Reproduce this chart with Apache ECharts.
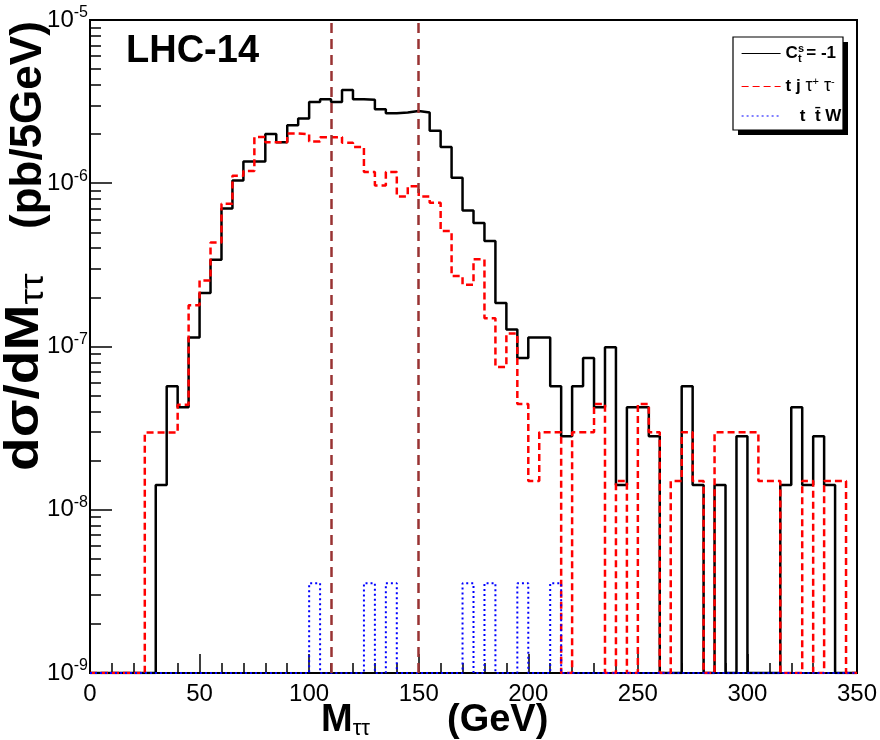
<!DOCTYPE html>
<html>
<head>
<meta charset="utf-8">
<script src="https://cdn.jsdelivr.net/npm/echarts@6/dist/echarts.min.js"></script>
<style>html,body{margin:0;padding:0;background:#fff}#chart{width:880px;height:740px}</style>
</head>
<body>
<div id="chart"></div>
<script>
// ---- data (5 GeV bins, lower edges) ----
const binLow = [0,5,10,15,20,25,30,35,40,45,50,55,60,65,70,75,80,85,90,95,
  100,105,110,115,120,125,130,135,140,145,150,155,160,165,170,175,180,185,190,195,
  200,205,210,215,220,225,230,235,240,245,250,255,260,265,270,275,280,285,290,295,
  300,305,310,315,320,325,330,335,340,345];
const xMax = 350;

// C_t^s = -1 (black, solid)
const signalCt = [0,0,0,0,0,0,1.42e-8,5.7e-8,4.24e-8,1.135e-7,
  2.13e-7,3.4e-7,7.0e-7,1.04e-6,1.36e-6,1.36e-6,2.0e-6,1.78e-6,2.27e-6,2.49e-6,
  3.15e-6,3.27e-6,3.15e-6,3.72e-6,3.27e-6,3.25e-6,2.84e-6,2.68e-6,2.71e-6,2.77e-6,
  2.71e-6,2.10e-6,1.67e-6,1.08e-6,6.8e-7,5.7e-7,4.43e-7,1.85e-7,1.27e-7,8.5e-8,
  1.135e-7,1.135e-7,5.7e-8,2.82e-8,5.7e-8,8.5e-8,4.24e-8,9.9e-8,1.42e-8,4.24e-8,
  4.24e-8,2.82e-8,0,0,5.7e-8,1.42e-8,0,1.42e-8,0,2.82e-8,
  0,0,0,1.42e-8,4.24e-8,1.42e-8,2.82e-8,1.42e-8,0,0];

// t j tau+ tau- (red, dashed)
const bkgTjTauTau = [0,0,0,0,0,2.97e-8,2.97e-8,2.97e-8,4.4e-8,1.79e-7,
  2.54e-7,4.33e-7,7.5e-7,1.11e-6,1.19e-6,1.92e-6,1.78e-6,1.78e-6,2.02e-6,2.0e-6,
  1.8e-6,1.91e-6,1.92e-6,1.77e-6,1.67e-6,1.17e-6,9.7e-7,1.17e-6,8.3e-7,9.6e-7,
  8.3e-7,7.6e-7,5.1e-7,2.7e-7,2.39e-7,3.42e-7,1.49e-7,7.5e-8,1.2e-7,4.45e-8,
  1.5e-8,2.98e-8,2.98e-8,0,2.98e-8,2.98e-8,4.45e-8,0,1.5e-8,0,
  4.45e-8,2.98e-8,0,1.5e-8,2.98e-8,1.5e-8,0,2.98e-8,2.98e-8,2.98e-8,
  2.98e-8,1.5e-8,1.5e-8,0,0,1.5e-8,0,1.5e-8,1.5e-8,0];

// t tbar W (blue, dotted)
const bkgTTW = [0,0,0,0,0,0,0,0,0,0,
  0,0,0,0,0,0,0,0,0,0,
  3.55e-9,0,0,0,0,3.55e-9,0,3.55e-9,0,0,
  0,0,0,0,3.55e-9,0,3.55e-9,0,0,3.55e-9,
  0,0,3.55e-9,0,0,0,0,0,0,0,
  0,0,0,0,0,0,0,0,0,0,
  0,0,0,0,0,0,0,0,0,0];

const cutLines = [110, 150];
const yMin = 1e-9, yMax = 1e-5;
const yMajorTicks = [1e-9, 1e-8, 1e-7, 1e-6, 1e-5];
const seriesNames = ['C^s_t = -1', 'tj\u03c4+\u03c4-', 'tt\u0304W'];
const seriesColors = ['#000000', '#ff0000', '#0000ff'];
const seriesDash = ['solid', [7, 4], [2, 3]];

// ---- build ----
function histData(vals) {
  const d = binLow.map((x, i) => [x, vals[i] > 0 ? vals[i] : yMin]);
  const last = vals[vals.length - 1];
  d.push([xMax, last > 0 ? last : yMin]);
  return d;
}
const yMinorTicks = [];
for (let e = -9; e < -5; e++) {
  for (let m = 2; m <= 9; m++) yMinorTicks.push(m * Math.pow(10, e));
}

const FONT = 'Liberation Sans';
const chart = echarts.init(document.getElementById('chart'), null, {renderer: 'canvas'});

const legendRich = {
  b: {fontFamily: FONT, fontWeight: 'bold', fontSize: 17, color: '#000'},
  g: {fontFamily: FONT, fontWeight: 'normal', fontSize: 18, color: '#000'},
  sup: {fontFamily: FONT, fontWeight: 'bold', fontSize: 11, color: '#000', width: 0.01, padding: [0, 0, 10, 0]},
  sub: {fontFamily: FONT, fontWeight: 'bold', fontSize: 11, color: '#000', padding: [10, 0, 0, 0]},
  gsup: {fontFamily: FONT, fontWeight: 'normal', fontSize: 11, color: '#000', padding: [0, 0, 10, 0]}
};

const option = {
  animation: false,
  backgroundColor: '#fff',
  title: {
    text: 'LHC-14', left: 126, top: 33, padding: 0,
    textStyle: {fontFamily: FONT, fontWeight: 'bold', fontSize: 38, color: '#000'}
  },
  grid: {left: 90, right: 23, top: 20, bottom: 67, outerBoundsMode: 'none', containLabel: false,
    show: true, borderColor: '#000', borderWidth: 2, backgroundColor: 'transparent'},
  legend: {
    data: seriesNames.map((n, i) => ({
      name: n,
      itemStyle: {opacity: 0},
      lineStyle: {color: seriesColors[i], type: seriesDash[i], width: 1.2, opacity: 1}
    })),
    orient: 'vertical',
    left: 741, top: 43, z: 6,
    padding: 0,
    itemWidth: 39, itemHeight: 20, itemGap: 12,
    textStyle: {fontFamily: FONT, fontWeight: 'bold', fontSize: 17, color: '#000', rich: legendRich},
    formatter: function (name) {
      if (name === seriesNames[0]) return '{b|C}{sup|s}{sub|t}{b| = -1}';
      if (name === seriesNames[1]) return '{b|t j }{g|\u03c4}{gsup|+}{g| \u03c4}{gsup|-}';
      return '{b|   t  t\u0304 W}';
    }
  },
  xAxis: {
    type: 'value', min: 0, max: xMax, interval: 50,
    axisLine: {show: true, lineStyle: {color: '#000', width: 2}},
    axisTick: {show: true, inside: true, length: 19, lineStyle: {color: '#000', width: 1.5}},
    minorTick: {show: true, splitNumber: 5, length: 10, lineStyle: {color: '#000', width: 1.5}},
    splitLine: {show: false},
    axisLabel: {fontFamily: FONT, fontSize: 24, color: '#000', margin: 9}
  },
  yAxis: [{
    type: 'log', logBase: 10, min: yMin, max: yMax,
    axisLine: {show: true, lineStyle: {color: '#000', width: 2}},
    axisTick: {show: true, inside: true, length: 22, customValues: yMajorTicks, lineStyle: {color: '#000', width: 1.5}},
    splitLine: {show: false},
    axisLabel: {
      customValues: yMajorTicks, margin: 2,
      fontFamily: FONT, fontSize: 24, color: '#000',
      formatter: function (v) { return '10{sup|' + Math.round(Math.log10(v)) + '}'; },
      rich: {sup: {fontFamily: FONT, fontSize: 16, color: '#000', padding: [0, 0, 14, 0]}}
    }
  }, {
    type: 'log', logBase: 10, min: yMin, max: yMax, position: 'left',
    axisLine: {show: false},
    axisTick: {show: true, inside: true, length: 11, customValues: yMinorTicks, lineStyle: {color: '#000', width: 1.5}},
    axisLabel: {show: false},
    splitLine: {show: false}
  }],
  graphic: [
    // legend box with shadow
    {type: 'rect', z: 3, shape: {x: 738, y: 42, width: 110, height: 93}, style: {fill: '#000'}},
    {type: 'rect', z: 4, shape: {x: 733, y: 37, width: 110, height: 93}, style: {fill: '#fff', stroke: '#000', lineWidth: 1.2}},
    // x axis title
    {type: 'text', x: 321, y: 740, z: 10, style: {
      text: 'M{sub|\u03c4\u03c4}', fontFamily: FONT, fontWeight: 'bold', fontSize: 38, fill: '#000',
      align: 'left', verticalAlign: 'bottom',
      rich: {sub: {fontFamily: FONT, fontWeight: 'normal', fontSize: 22, fill: '#000', padding: [16, 0, 0, 0]}}
    }},
    {type: 'text', x: 447, y: 740, z: 10, style: {
      text: '(GeV)', fontFamily: FONT, fontWeight: 'bold', fontSize: 38, fill: '#000',
      align: 'left', verticalAlign: 'bottom'
    }},
    // y axis title (two parts, rotated)
    {type: 'text', x: 51, y: 471, rotation: Math.PI / 2, scaleX: 1.15, z: 10, style: {
      text: 'd\u03c3/dM{sub|\u03c4\u03c4}', fontFamily: FONT, fontWeight: 'bold', fontSize: 48, fill: '#000',
      align: 'left', verticalAlign: 'bottom',
      rich: {sub: {fontFamily: FONT, fontWeight: 'normal', fontSize: 34, fill: '#000', padding: [18, 0, 0, 0]}}
    }},
    {type: 'text', x: 51, y: 229, rotation: Math.PI / 2, z: 10, style: {
      text: '(pb/5GeV)', fontFamily: FONT, fontWeight: 'bold', fontSize: 44, fill: '#000',
      align: 'left', verticalAlign: 'bottom'
    }}
  ],
  series: [{
    name: seriesNames[0], type: 'line', step: 'end', symbol: 'none', showSymbol: false, yAxisIndex: 0,
    data: histData(signalCt), color: seriesColors[0],
    lineStyle: {color: seriesColors[0], width: 2.5, type: seriesDash[0]}, z: 2
  }, {
    name: seriesNames[1], type: 'line', step: 'end', symbol: 'none', showSymbol: false, yAxisIndex: 0,
    data: histData(bkgTjTauTau), color: seriesColors[1],
    lineStyle: {color: seriesColors[1], width: 2.5, type: seriesDash[1]}, z: 3
  }, {
    name: seriesNames[2], type: 'line', step: 'end', symbol: 'none', showSymbol: false, yAxisIndex: 0,
    data: histData(bkgTTW), color: seriesColors[2],
    lineStyle: {color: seriesColors[2], width: 2, type: seriesDash[2]}, z: 4
  }, {
    name: 'cuts', type: 'line', data: [], yAxisIndex: 0, z: 5,
    markLine: {
      silent: true, symbol: ['none', 'none'], label: {show: false},
      lineStyle: {color: '#993333', width: 2.5, type: [10, 6]},
      data: cutLines.map(x => ({xAxis: x}))
    }
  }]
};
chart.setOption(option);
</script>
</body>
</html>
